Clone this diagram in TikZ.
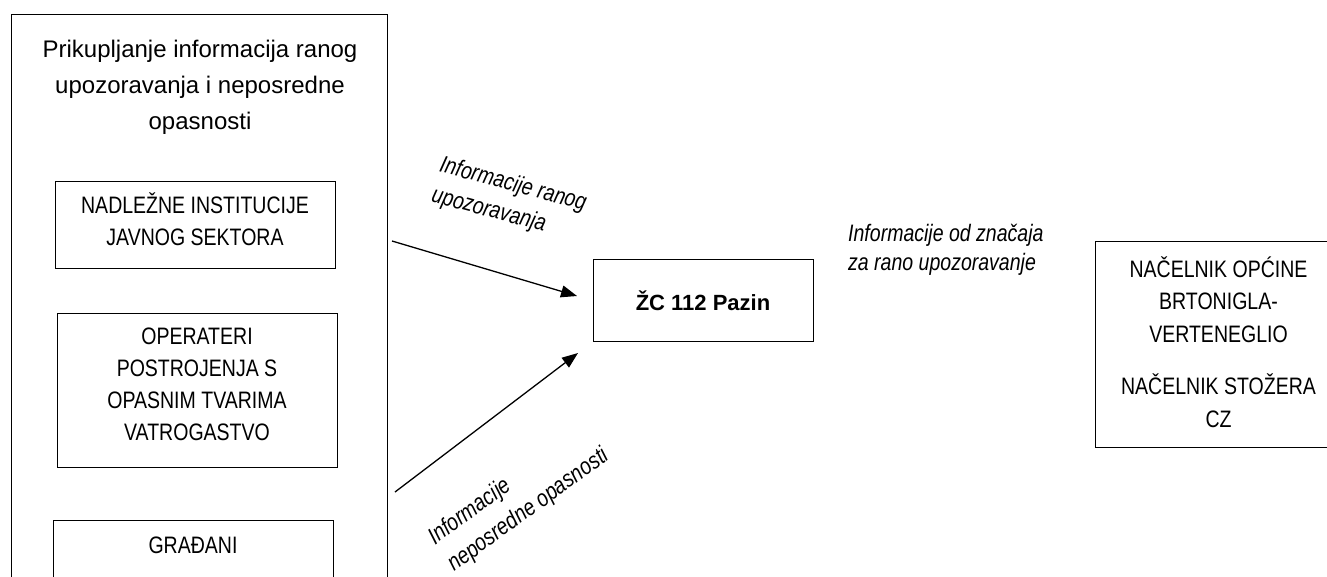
\documentclass[tikz,border=0pt]{standalone}
\usepackage{fontspec}
\setmainfont{Liberation Sans}
\newfontfamily\narrowfont[FakeStretch=0.82]{Liberation Sans}
\usetikzlibrary{arrows.meta}
\begin{document}
\begin{tikzpicture}[x=1pt,y=-1pt,
  frame/.style={draw=black, line width=1.1pt, inner sep=0pt, anchor=north west},
  boxtext/.style={align=center, inner sep=0pt, anchor=base, font=\narrowfont\fontsize{23.8}{31.5}\selectfont},
  lbl/.style={align=left, inner sep=0pt, font=\narrowfont\fontsize{23.8}{31}\selectfont\itshape},
  arr/.style={line width=1.3pt, -{Triangle[length=16pt,width=12pt]}}
]
\useasboundingbox (0,0) rectangle (1327,576);
\clip (0,0) rectangle (1327,576);
% left group
\node[frame, minimum width=376pt, minimum height=620pt] (outer) at (11,14) {};
\node[anchor=base, align=center, inner sep=0pt, font=\fontsize{24}{36}\selectfont] (title) at (200,129)
  {Prikupljanje informacija ranog\\upozoravanja i neposredne\\opasnosti};
\node[frame, minimum width=280pt, minimum height=87pt] (inst) at (55,181) {};
\node[boxtext] (instt) at (195,245) {NADLEŽNE INSTITUCIJE\\JAVNOG SEKTORA};
\node[frame, minimum width=280pt, minimum height=154pt] (oper) at (57,313) {};
\node[boxtext, font=\narrowfont\fontsize{23.8}{31.7}\selectfont] (opert) at (197,440)
  {OPERATERI\\POSTROJENJA S\\OPASNIM TVARIMA\\VATROGASTVO};
\node[frame, minimum width=280pt, minimum height=100pt] (grad) at (53,520) {};
\node[boxtext] (gradt) at (193,553) {GRAĐANI};
% centre
\node[frame, minimum width=220pt, minimum height=82pt] (zc) at (593,259) {};
\node[anchor=base, inner sep=0pt, font=\fontsize{22}{26}\selectfont\bfseries] (zct) at (703,310) {ŽC 112 Pazin};
% arrows
\coordinate (a1s) at (392,241);
\coordinate (a1e) at (577,296);
\coordinate (a2s) at (395,492);
\coordinate (a2e) at (578,353);
\draw[arr] (a1s) -- (a1e);
\draw[arr] (a2s) -- (a2e);
\node[lbl, rotate=-15] (l1) at (509,200) {Informacije ranog\\upozoravanja};
\node[lbl, rotate=36, font=\narrowfont\fontsize{23.8}{33}\selectfont\itshape] (l2) at (519,497) {Informacije\\neposredne opasnosti};
% right
\node[lbl, anchor=base west, font=\narrowfont\fontsize{23.8}{28.5}\selectfont\itshape] (l3) at (848,270)
  {Informacije od značaja\\za rano upozoravanje};
\node[frame, minimum width=246pt, minimum height=206pt] (nac) at (1095,241) {};
\node[boxtext, font=\narrowfont\fontsize{23.8}{32.5}\selectfont] (nact) at (1218.5,427)
  {NAČELNIK OPĆINE\\BRTONIGLA-\\VERTENEGLIO\\[20pt]NAČELNIK STOŽERA\\CZ};
\end{tikzpicture}
\end{document}
